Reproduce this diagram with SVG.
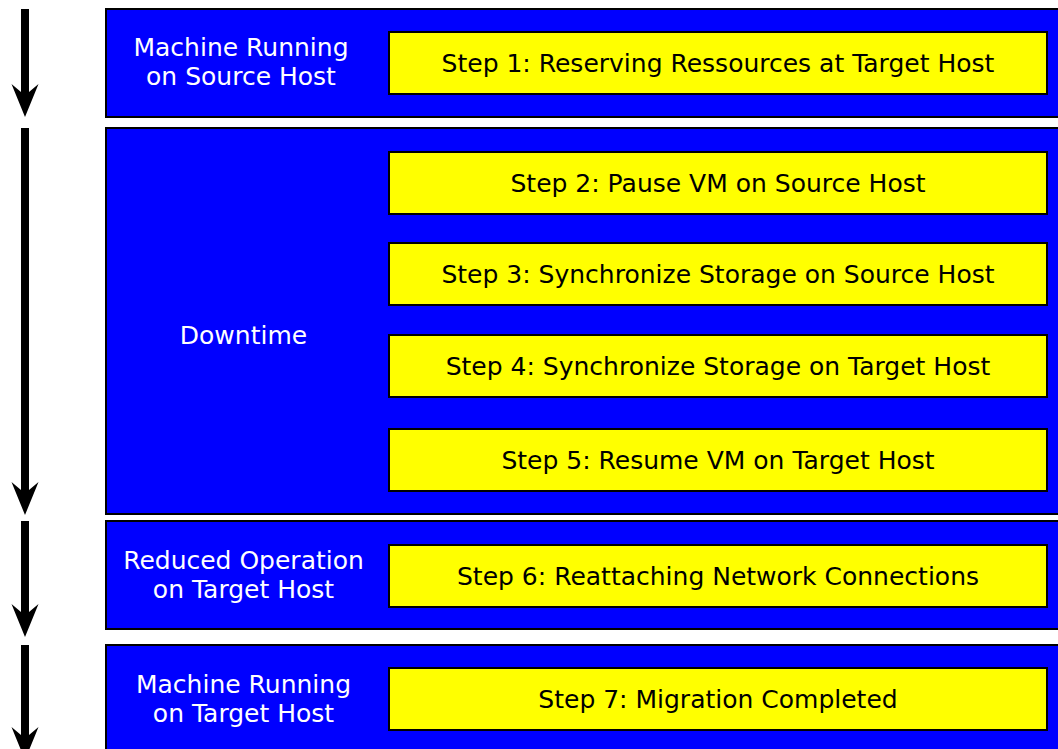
<svg xmlns="http://www.w3.org/2000/svg" width="1058" height="749" viewBox="0 0 1058 749">
  <style>
    .phase { fill: #0000ff; stroke: #000; stroke-width: 2; }
    .step { fill: #ffff00; stroke: #000; stroke-width: 2; }
    .plabel { fill: #fff; font-family: "DejaVu Sans", sans-serif; font-size: 25px; text-anchor: middle; }
    .slabel { fill: #000; font-family: "DejaVu Sans", sans-serif; font-size: 25px; text-anchor: middle; }
    .shaft { stroke: #000; stroke-width: 8; fill: none; }
    .head { fill: #000; }
  </style>
  <rect width="1058" height="749" fill="#fff"/>

  <!-- timeline arrows -->
  <g id="timeline">
    <line class="shaft" x1="25" y1="9" x2="25" y2="100"/>
    <path class="head" d="M25,117 L11.5,84 L21,92 L29,92 L38.5,84 Z"/>
    <line class="shaft" x1="25" y1="128" x2="25" y2="498"/>
    <path class="head" d="M25,515 L11.5,482 L21,490 L29,490 L38.5,482 Z"/>
    <line class="shaft" x1="25" y1="521" x2="25" y2="620"/>
    <path class="head" d="M25,637 L11.5,604 L21,612 L29,612 L38.5,604 Z"/>
    <line class="shaft" x1="25" y1="645" x2="25" y2="740"/>
    <path class="head" d="M25,760 L11.5,727 L21,735 L29,735 L38.5,727 Z"/>
  </g>

  <!-- phase 1 -->
  <g id="phase-source">
    <rect class="phase" x="106" y="9" width="970" height="108"/>
    <text class="plabel" x="241" y="56">Machine Running</text>
    <text class="plabel" x="241" y="85">on Source Host</text>
  </g>
  <g id="step1">
    <rect class="step" x="389" y="32" width="658" height="62"/>
    <text class="slabel" x="718" y="72">Step 1: Reserving Ressources at Target Host</text>
  </g>

  <!-- phase 2 -->
  <g id="phase-downtime">
    <rect class="phase" x="106" y="128" width="970" height="386"/>
    <text class="plabel" x="243.5" y="344">Downtime</text>
  </g>
  <g id="step2">
    <rect class="step" x="389" y="152" width="658" height="62"/>
    <text class="slabel" x="718" y="192">Step 2: Pause VM on Source Host</text>
  </g>
  <g id="step3">
    <rect class="step" x="389" y="243" width="658" height="62"/>
    <text class="slabel" x="718" y="283">Step 3: Synchronize Storage on Source Host</text>
  </g>
  <g id="step4">
    <rect class="step" x="389" y="335" width="658" height="62"/>
    <text class="slabel" x="718" y="375">Step 4: Synchronize Storage on Target Host</text>
  </g>
  <g id="step5">
    <rect class="step" x="389" y="429" width="658" height="62"/>
    <text class="slabel" x="718" y="469">Step 5: Resume VM on Target Host</text>
  </g>

  <!-- phase 3 -->
  <g id="phase-reduced">
    <rect class="phase" x="106" y="521" width="970" height="108"/>
    <text class="plabel" x="243.5" y="569">Reduced Operation</text>
    <text class="plabel" x="243.5" y="598">on Target Host</text>
  </g>
  <g id="step6">
    <rect class="step" x="389" y="545" width="658" height="62"/>
    <text class="slabel" x="718" y="585">Step 6: Reattaching Network Connections</text>
  </g>

  <!-- phase 4 -->
  <g id="phase-target">
    <rect class="phase" x="106" y="645" width="970" height="130"/>
    <text class="plabel" x="243.5" y="693">Machine Running</text>
    <text class="plabel" x="243.5" y="722">on Target Host</text>
  </g>
  <g id="step7">
    <rect class="step" x="389" y="668" width="658" height="62"/>
    <text class="slabel" x="718" y="708">Step 7: Migration Completed</text>
  </g>
</svg>
